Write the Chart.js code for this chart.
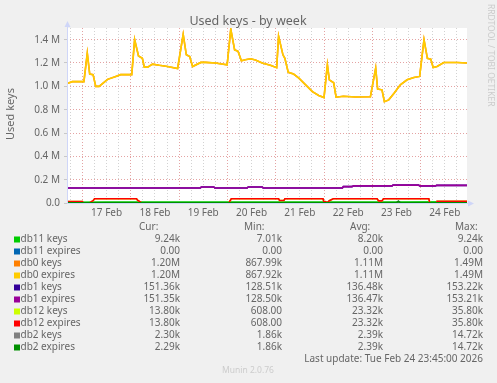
<!DOCTYPE html>
<html>
<head>
<meta charset="utf-8">
<script src="https://cdn.jsdelivr.net/npm/chart.js@4.4.1/dist/chart.umd.min.js"></script>
<style>
  html, body { margin: 0; padding: 0; background: #f0f0f0; }
  canvas { display: block; }
</style>
</head>
<body>
<canvas id="usedKeysChart" width="497" height="383"></canvas>
<script>
// time axis is in days of February (17.5 = 17 Feb 12:00), values in thousands of keys
const xStart = 16.68;
const xEnd = 24.96;
const dayTicks = [17.5, 18.5, 19.5, 20.5, 21.5, 22.5, 23.5, 24.5];
const dayLabels = ['17 Feb', '18 Feb', '19 Feb', '20 Feb', '21 Feb', '22 Feb', '23 Feb', '24 Feb'];

const db0Times = [16.68, 16.79, 17.03, 17.10, 17.15, 17.22, 17.275, 17.345, 17.52, 17.69, 17.79,
  18.02, 18.08, 18.16, 18.24, 18.28, 18.35, 18.45, 18.59, 18.76, 18.97,
  19.085, 19.15, 19.22, 19.28, 19.45, 19.55, 19.75, 19.995,
  20.07, 20.15, 20.22, 20.29, 20.37, 20.48, 20.58, 20.72, 20.89,
  21.02, 21.06, 21.15, 21.19, 21.26, 21.37, 21.48, 21.62, 21.76, 21.89,
  22.00, 22.07, 22.11, 22.20, 22.25, 22.40, 22.65, 22.96,
  23.07, 23.11, 23.20, 23.25, 23.34, 23.45, 23.58, 23.72, 23.86, 23.98,
  24.07, 24.14, 24.21, 24.26, 24.34, 24.48, 24.76, 24.96];
const db0Keys = [1024, 1040, 1040, 1285, 1105, 1100, 1000, 1000, 1060, 1085, 1100,
  1100, 1400, 1260, 1240, 1165, 1165, 1190, 1180, 1170, 1153,
  1445, 1270, 1255, 1170, 1205, 1205, 1200, 1185,
  1490, 1313, 1300, 1219, 1228, 1236, 1225, 1200, 1180,
  1160, 1430, 1270, 1240, 1120, 1105, 1070, 1013, 955, 921,
  904, 1185, 1056, 1030, 907, 915, 908, 910,
  1156, 976, 970, 868, 884, 940, 1013, 1056, 1076, 1085,
  1400, 1240, 1233, 1161, 1170, 1204, 1204, 1200];
const db0Expires = [1024, 1040, 1040, 1285, 1105, 1100, 1000, 1000, 1060, 1085, 1100,
  1100, 1400, 1260, 1240, 1165, 1165, 1190, 1180, 1170, 1153,
  1445, 1270, 1255, 1170, 1205, 1205, 1200, 1185,
  1490, 1313, 1300, 1219, 1228, 1236, 1225, 1200, 1180,
  1160, 1430, 1270, 1240, 1120, 1105, 1070, 1013, 955, 921,
  904, 1185, 1056, 1030, 907, 915, 908, 910,
  1156, 976, 970, 868, 884, 940, 1013, 1056, 1076, 1085,
  1400, 1240, 1233, 1161, 1170, 1204, 1204, 1200];

const db1Times = [16.68, 19.44, 19.46, 19.72, 19.74, 20.41, 20.43, 20.72, 20.74,
  22.38, 22.40, 22.58, 22.61, 23.41, 23.43, 23.96, 23.98, 24.31, 24.33, 24.96];
const db1Keys = [128.5, 128.5, 137, 137, 128.6, 128.6, 137, 137, 129,
  129, 140, 140, 147, 147, 153.2, 153.2, 147, 147, 151.4, 151.4];
const db1Expires = [128.5, 128.5, 137, 137, 128.6, 128.6, 137, 137, 129,
  129, 140, 140, 147, 147, 153.2, 153.2, 147, 147, 151.4, 151.4];

const db12Times = [16.68, 17.00, 17.02, 17.14, 17.22, 17.25, 18.12, 18.14, 18.23,
  20.03, 20.08, 21.06, 21.08, 21.17, 21.19, 21.98, 22.00, 22.03, 22.07, 22.11, 22.19,
  23.10, 23.13, 23.20, 23.23, 24.17, 24.19, 24.33, 24.34, 24.96];
const db12Keys = [13.5, 13.5, 0.6, 0.6, 20, 35.8, 35.8, 24, 0.61,
  0.61, 35.8, 35.8, 22, 22, 35.8, 35.8, 5, 12, 3, 20, 35.8,
  35.8, 18, 18, 35.8, 35.8, 1, 1, 13.8, 13.8];
const db12Expires = [13.5, 13.5, 0.6, 0.6, 20, 35.8, 35.8, 24, 0.61,
  0.61, 35.8, 35.8, 22, 22, 35.8, 35.8, 5, 12, 3, 20, 35.8,
  35.8, 18, 18, 35.8, 35.8, 1, 1, 13.8, 13.8];

const db11Times = [16.68, 17.5, 18.5, 19.5, 20.5, 21.5, 22.5, 23.5, 24.96];
const db11Keys = [7.01, 7.3, 7.6, 7.9, 8.2, 8.5, 8.8, 9.0, 9.24];
const db11Expires = [0, 0, 0, 0, 0, 0, 0, 0, 0];

const db2Times = [16.68, 18.5, 20.5, 22.5, 23.50, 23.54, 23.58, 24.96];
const db2Keys = [1.9, 2.2, 2.4, 2.3, 2.3, 14.72, 2.3, 2.30];
const db2Expires = [1.86, 2.2, 2.4, 2.3, 2.3, 14.72, 2.3, 2.29];

const seriesNames = ['db11 keys', 'db11 expires', 'db0 keys', 'db0 expires', 'db1 keys',
  'db1 expires', 'db12 keys', 'db12 expires', 'db2 keys', 'db2 expires'];
const seriesColors = ['#00cc00', '#0066b3', '#ff8000', '#ffcc00', '#330099',
  '#990099', '#ccff00', '#ff0000', '#808080', '#008f00'];
const curValues = ['9.24k', '0.00', '1.20M', '1.20M', '151.36k', '151.35k', '13.80k', '13.80k', '2.30k', '2.29k'];
const minValues = ['7.01k', '0.00', '867.99k', '867.92k', '128.51k', '128.50k', '608.00', '608.00', '1.86k', '1.86k'];
const avgValues = ['8.20k', '0.00', '1.11M', '1.11M', '136.48k', '136.47k', '23.32k', '23.32k', '2.39k', '2.39k'];
const maxValues = ['9.24k', '0.00', '1.49M', '1.49M', '153.22k', '153.21k', '35.80k', '35.80k', '14.72k', '14.72k'];

const seriesData = [
  [db11Times, db11Keys], [db11Times, db11Expires],
  [db0Times, db0Keys], [db0Times, db0Expires],
  [db1Times, db1Keys], [db1Times, db1Expires],
  [db12Times, db12Keys], [db12Times, db12Expires],
  [db2Times, db2Keys], [db2Times, db2Expires]
];

const FONT = '"Noto Sans", "DejaVu Sans", sans-serif';
const TEXT = '#666666';
const AXIS = '#cfd6f8';
const MAJOR = '#e4a3a3';
const MINOR = '#d2d2d2';

const datasets = seriesData.map(([times, values], i) => ({
  label: seriesNames[i],
  data: times.map((t, j) => ({ x: t, y: values[j] })),
  borderColor: seriesColors[i],
  borderWidth: 1.6,
  pointRadius: 0,
  tension: 0,
  fill: false,
  order: seriesData.length - i
}));

const muninDecor = {
  id: 'muninDecor',
  beforeDraw(chart) {
    const { ctx, chartArea: a } = chart;
    ctx.save();
    ctx.fillStyle = '#f0f0f0';
    ctx.fillRect(0, 0, chart.width, chart.height);
    ctx.fillStyle = '#ffffff';
    ctx.fillRect(a.left, a.top, a.right - a.left, a.bottom - a.top);
    ctx.restore();
  },
  afterDatasetsDraw(chart) {
    const { ctx, chartArea: a } = chart;
    ctx.save();
    ctx.strokeStyle = AXIS;
    ctx.fillStyle = AXIS;
    ctx.lineWidth = 1;
    ctx.beginPath();
    ctx.moveTo(a.left + 0.5, a.bottom);
    ctx.lineTo(a.left + 0.5, a.top - 2);
    ctx.moveTo(a.left, a.bottom + 0.5);
    ctx.lineTo(a.right + 3, a.bottom + 0.5);
    ctx.stroke();
    ctx.beginPath();
    ctx.moveTo(a.left + 0.5, a.top - 7);
    ctx.lineTo(a.left - 2.5, a.top - 1);
    ctx.lineTo(a.left + 3.5, a.top - 1);
    ctx.closePath();
    ctx.fill();
    ctx.beginPath();
    ctx.moveTo(a.right + 7, a.bottom + 0.5);
    ctx.lineTo(a.right + 1, a.bottom - 2.5);
    ctx.lineTo(a.right + 1, a.bottom + 3.5);
    ctx.closePath();
    ctx.fill();
    ctx.restore();
  },
  afterDraw(chart) {
    const { ctx } = chart;
    ctx.save();
    ctx.fillStyle = TEXT;
    ctx.textBaseline = 'middle';

    ctx.font = '12.5px ' + FONT;
    ctx.textAlign = 'center';
    ctx.fillText('Used keys - by week', 248, 21);

    ctx.save();
    ctx.translate(11, 114);
    ctx.rotate(-Math.PI / 2);
    ctx.font = '11px ' + FONT;
    ctx.fillText('Used keys', 0, 0);
    ctx.restore();

    ctx.save();
    ctx.translate(490.5, 4);
    ctx.rotate(Math.PI / 2);
    ctx.font = '8.5px ' + FONT;
    ctx.fillStyle = '#cccccc';
    ctx.textAlign = 'left';
    ctx.fillText('RRDTOOL / TOBI OETIKER', 0, 0);
    ctx.restore();

    ctx.font = '10px ' + FONT;
    ctx.textAlign = 'left';
    ctx.fillText('Cur:', 139, 227);
    ctx.fillText('Min:', 244, 227);
    ctx.fillText('Avg:', 350, 227);
    ctx.fillText('Max:', 455, 227);

    seriesNames.forEach((name, i) => {
      const y = 239.5 + i * 12;
      ctx.fillStyle = seriesColors[i];
      ctx.fillRect(14, y - 3, 6, 6);
      ctx.fillStyle = TEXT;
      ctx.textAlign = 'left';
      ctx.fillText(name, 20.5, y);
      ctx.textAlign = 'right';
      ctx.fillText(curValues[i], 180, y);
      ctx.fillText(minValues[i], 282, y);
      ctx.fillText(avgValues[i], 383, y);
      ctx.fillText(maxValues[i], 483, y);
    });

    ctx.textAlign = 'right';
    ctx.fillText('Last update: Tue Feb 24 23:45:00 2026', 483, 359.5);

    ctx.textAlign = 'center';
    ctx.font = '8.5px ' + FONT;
    ctx.fillStyle = '#cccccc';
    ctx.fillText('Munin 2.0.76', 248, 371);
    ctx.restore();
  }
};

new Chart(document.getElementById('usedKeysChart'), {
  type: 'line',
  data: { datasets },
  plugins: [muninDecor],
  options: {
    responsive: false,
    animation: false,
    layout: { padding: { left: 0, top: 28, right: 30, bottom: 0 } },
    plugins: {
      legend: { display: false },
      tooltip: { enabled: false },
      title: { display: false }
    },
    scales: {
      x: {
        type: 'linear',
        min: xStart,
        max: xEnd,
        afterFit: (scale) => { scale.height = 180; },
        afterBuildTicks: (scale) => {
          const ticks = [];
          for (let v = 16.75; v <= 24.75; v += 0.25) ticks.push({ value: v });
          scale.ticks = ticks;
        },
        ticks: {
          autoSkip: false,
          maxRotation: 0,
          padding: 4,
          color: TEXT,
          font: { family: FONT, size: 10 },
          callback: (value) => {
            const i = dayTicks.indexOf(value);
            return i >= 0 ? dayLabels[i] : '';
          }
        },
        grid: {
          drawTicks: false,
          lineWidth: 1,
          color: (c) => (c.tick && Number.isInteger(c.tick.value) ? MAJOR : MINOR)
        },
        border: { display: false, dash: [1, 2] }
      },
      y: {
        min: 0,
        max: 1500,
        afterFit: (scale) => { scale.width = 67; },
        ticks: {
          stepSize: 100,
          padding: 4,
          color: TEXT,
          font: { family: FONT, size: 10 },
          callback: (value) => {
            if (value % 200 !== 0) return '';
            return value === 0 ? '0.0' : (value / 1000).toFixed(1) + ' M';
          }
        },
        grid: {
          drawTicks: true,
          tickLength: 3,
          tickColor: '#c8c8c8',
          lineWidth: 1,
          color: (c) => (c.tick && c.tick.value % 200 === 0 && c.tick.value > 0 ? MAJOR : MINOR)
        },
        border: { display: false, dash: [1, 2] }
      }
    }
  }
});
</script>
</body>
</html>
